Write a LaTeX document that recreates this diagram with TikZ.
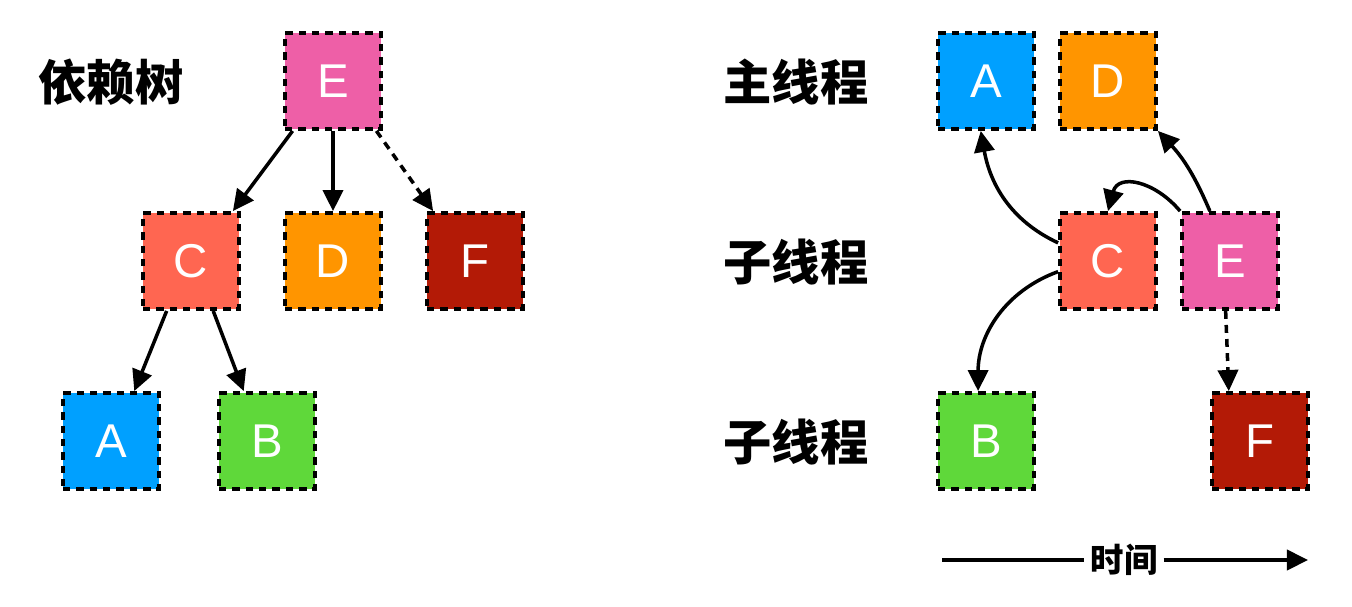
\documentclass[tikz,border=0pt]{standalone}
\usepackage{fontspec}
\setsansfont{Liberation Sans}
\newfontfamily\cjk{Noto Sans CJK SC}
\usetikzlibrary{arrows.meta,positioning}

\definecolor{taskA}{HTML}{00A0FF}
\definecolor{taskB}{HTML}{5FD83A}
\definecolor{taskC}{HTML}{FF6651}
\definecolor{taskD}{HTML}{FF9500}
\definecolor{taskE}{HTML}{EE5FA7}
\definecolor{taskF}{HTML}{B31A06}

\begin{document}
\begin{tikzpicture}[x=0.02cm, y=-0.02cm,
        task/.style={rectangle, draw, line width=2.2pt, dash pattern=on 4.2pt off 3.4pt,
                     minimum size=1.92cm, inner sep=0pt, text=white,
                     font=\sffamily\fontsize{27}{27}\selectfont},
        lane/.style={font=\cjk\bfseries\fontsize{27.5}{27.5}\selectfont},
        dep/.style={line width=2pt},
        >={Triangle[length=12pt,width=11.5pt]}]
        \useasboundingbox (0,0) rectangle (1352,606);
        % dependency tree
        \node[lane] at (111,82) (tree) {依赖树};
        \node[task, fill=taskE] at (333,81) (eT) {E};
        \node[task, fill=taskC] at (191,261) (cT) {C};
        \node[task, fill=taskD] at (333,261) (dT) {D};
        \node[task, fill=taskF] at (475,261) (fT) {F};
        \node[task, fill=taskA] at (111,441) (aT) {A};
        \node[task, fill=taskB] at (267,441) (bT) {B};
        \draw[->,dep] (eT.-129) -- (cT.50);
        \draw[->,dep] (eT.south) -- (dT.north);
        \draw[->,dep,dash pattern=on 4.5pt off 3.5pt] (eT.-49) -- (fT.130);
        \draw[->,dep] (cT.-116) -- (aT.65);
        \draw[->,dep] (cT.-66) -- (bT.115);
        % threads
        \node[lane] at (796,82) (mainth) {主线程};
        \node[lane] at (796,262) (subth) {子线程};
        \node[lane] at (796,442) (subthb) {子线程};
        \node[task, fill=taskA] at (986,81) (aR) {A};
        \node[task, fill=taskD] at (1108,81) (dR) {D};
        \node[task, fill=taskC] at (1108,261) (cR) {C};
        \node[task, fill=taskE] at (1230,261) (eR) {E};
        \node[task, fill=taskB] at (986,441) (bR) {B};
        \node[task, fill=taskF] at (1260,441) (fR) {F};
        \draw[->,dep] (cR.160) to[out=155, in=-80] (aR.-96);
        \draw[->,dep] (eR.north west) to[out=130, in=75, looseness=1.4] (cR.north);
        \draw[->,dep] (eR.112) to[bend right=10] (dR.south east);
        \draw[->,dep] (cR.192) to[out=200, in=90] (bR.99);
        \draw[->,dep,dash pattern=on 4.5pt off 3.5pt] (eR.-95) -- (fR.122);
        % time axis
        \node[font=\cjk\bfseries\fontsize{19}{19}\selectfont] at (1124,560) (time) {时间};
        \coordinate (tstart) at (942,560);
        \coordinate (tend) at (1308,560);
        \draw[dep] (tstart) -- (time);
        \draw[->,dep] (time) -- (tend);
\end{tikzpicture}
\end{document}
